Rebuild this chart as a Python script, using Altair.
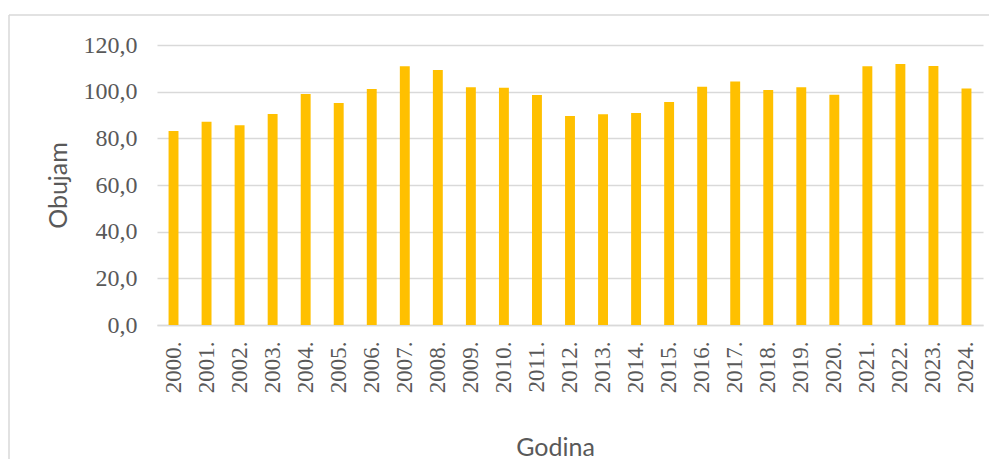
import altair as alt
import pandas as pd

years = ["2000.", "2001.", "2002.", "2003.", "2004.", "2005.", "2006.", "2007.", "2008.",
         "2009.", "2010.", "2011.", "2012.", "2013.", "2014.", "2015.", "2016.", "2017.",
         "2018.", "2019.", "2020.", "2021.", "2022.", "2023.", "2024."]
values = [83.1, 87.1, 85.6, 90.4, 99.0, 95.1, 101.1, 110.9, 109.3,
          101.9, 101.7, 98.6, 89.6, 90.3, 90.9, 95.6, 102.1, 104.4,
          100.7, 101.9, 98.7, 110.9, 111.9, 111.0, 101.4]
y_ticks = [0, 20, 40, 60, 80, 100, 120]

df = pd.DataFrame({"Godina": years, "Obujam": values})

W, H = 826, 280

one = alt.Chart(df).transform_filter(alt.datum.Godina == "2000.")

frame_top = one.mark_rule(color="#D9D9D9", strokeWidth=1.5, clip=False).encode(
    x=alt.value(-148), x2=alt.value(W + 6), y=alt.value(-30)
)
frame_left = one.mark_rule(color="#D9D9D9", strokeWidth=1.5, clip=False).encode(
    x=alt.value(-148), y=alt.value(-30), y2=alt.value(H + 134)
)

bars = alt.Chart(df).mark_bar(color="#FFC000").encode(
    x=alt.X("Godina:N", sort=None,
            scale=alt.Scale(paddingInner=0.7, paddingOuter=0.35),
            axis=alt.Axis(
                title="Godina", labelAngle=270, labelAlign="right", labelBaseline="middle",
                labelFont="Liberation Serif", labelFontSize=23, labelColor="#595959",
                labelPadding=16, ticks=False, domainColor="#D9D9D9", domainWidth=1.5,
                titleFont="Lato", titleFontSize=25, titleFontWeight="normal",
                titleColor="#595959", titleX=398, titleY=130, titleAlign="center",
                titleBaseline="alphabetic", titleAnchor="start")),
    y=alt.Y("Obujam:Q",
            scale=alt.Scale(domain=[0, 120], nice=False),
            axis=alt.Axis(
                title="Obujam", values=y_ticks,
                labelExpr="replace(format(datum.value, '.1f'), '.', ',')",
                labelFont="Liberation Serif", labelFontSize=24, labelColor="#595959",
                labelPadding=20, ticks=False, domain=False,
                grid=True, gridColor="#D9D9D9", gridWidth=1.5,
                titleFont="Lato", titleFontSize=25, titleFontWeight="normal",
                titleColor="#595959", titleAngle=270, titleX=-99, titleY=140,
                titleAlign="center", titleBaseline="middle", titleAnchor="start")),
)

chart = alt.layer(frame_top, frame_left, bars).properties(
    width=W, height=H,
    autosize=alt.AutoSizeParams(type="none"),
    padding={"left": 149, "top": 37, "right": 6, "bottom": 134},
).configure_view(stroke=None)

chart.save("out.html", embed_options={"renderer": "svg", "actions": False})
